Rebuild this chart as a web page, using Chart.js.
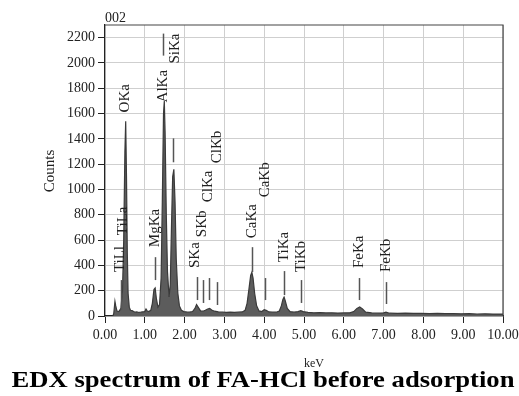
<!DOCTYPE html>
<html>
<head>
<meta charset="utf-8">
<script src="https://cdn.jsdelivr.net/npm/chart.js@4.4.1/dist/chart.umd.min.js"></script>
<style>
  html, body { margin: 0; padding: 0; background: #fff; }
  #wrap { width: 519px; height: 396px; }
</style>
</head>
<body>
<div id="wrap"><canvas id="edx" width="519" height="396"></canvas></div>
<script>
// spectrum (keV, counts)
const energies = [
  0.20, 0.22, 0.25, 0.27, 0.30, 0.33, 0.36, 0.40, 0.44, 0.47, 0.50, 0.52, 0.54, 0.56, 0.58, 0.61,
  0.64, 0.68, 0.72, 0.76, 0.80, 0.85, 0.90, 0.95, 1.00, 1.03, 1.06, 1.10, 1.15, 1.19, 1.23, 1.26,
  1.29, 1.33, 1.37, 1.41, 1.44, 1.47, 1.49, 1.51, 1.54, 1.57, 1.61, 1.64, 1.67, 1.70, 1.73, 1.76,
  1.79, 1.83, 1.87, 1.92, 1.98, 2.05, 2.12, 2.20, 2.26, 2.30, 2.34, 2.40, 2.46, 2.52, 2.58, 2.63,
  2.68, 2.75, 2.85, 2.95, 3.05, 3.15, 3.25, 3.35, 3.45, 3.52, 3.57, 3.62, 3.66, 3.69, 3.72, 3.76,
  3.81, 3.87, 3.94, 4.00, 4.05, 4.12, 4.20, 4.30, 4.38, 4.43, 4.47, 4.50, 4.53, 4.58, 4.65, 4.75,
  4.85, 4.92, 4.98, 5.10, 5.25, 5.40, 5.55, 5.70, 5.85, 6.00, 6.15, 6.25, 6.33, 6.40, 6.47, 6.55,
  6.70, 6.85, 7.00, 7.06, 7.15, 7.35, 7.55, 7.75, 7.95, 8.15, 8.35, 8.55, 8.75, 8.95, 9.15, 9.35,
  9.55, 9.75, 10.00
];
const counts = [
  0, 20, 115, 80, 40, 35, 40, 60, 200, 600, 1300, 1540, 1100, 500, 180, 70,
  45, 42, 35, 30, 32, 28, 30, 33, 35, 55, 40, 35, 45, 100, 210, 222,
  140, 70, 90, 300, 900, 1600, 1700, 1450, 800, 350, 150, 250, 700, 1100, 1160, 900,
  450, 180, 80, 45, 35, 32, 30, 35, 60, 90, 70, 40, 38, 45, 55, 60,
  48, 38, 32, 30, 28, 30, 28, 30, 32, 45, 100, 220, 320, 345, 300, 180,
  80, 40, 35, 50, 45, 32, 30, 30, 40, 80, 130, 150, 120, 60, 35, 30,
  35, 42, 35, 28, 25, 27, 24, 25, 23, 24, 25, 35, 60, 72, 55, 30,
  24, 22, 25, 30, 22, 21, 22, 20, 21, 19, 20, 18, 19, 17, 18, 16,
  17, 15, 15
];

// peak labels: name, keV of text centre, counts at start of text
const labelNames = ["TiLl", "TiLa", "OKa", "MgKa", "AlKa", "SiKa", "SKa", "SKb",
  "ClKa", "ClKb", "CaKa", "CaKb", "TiKa", "TiKb", "FeKa", "FeKb"];
const labelKeV = [0.38, 0.46, 0.50, 1.26, 1.46, 1.76, 2.26, 2.43,
  2.60, 2.81, 3.69, 4.02, 4.50, 4.92, 6.39, 7.06];
const labelBase = [347, 639, 1609, 544, 1688, 1995, 379, 623,
  899, 1207, 615, 938, 426, 347, 379, 347];

// marker lines: keV, top count, bottom count
const markerKeV = [0.39, 1.25, 1.46, 1.72, 2.30, 2.45, 2.62, 2.81, 3.69, 4.02, 4.50, 4.93, 6.39, 7.06];
const markerTop = [284, 465, 2232, 1404, 308, 284, 300, 268, 544, 300, 355, 284, 300, 268];
const markerBottom = [47, 284, 2058, 1215, 126, 103, 126, 87, 347, 126, 166, 103, 126, 95];

const xTicks = [0, 1, 2, 3, 4, 5, 6, 7, 8, 9, 10];
const yTicks = [0, 200, 400, 600, 800, 1000, 1200, 1400, 1600, 1800, 2000, 2200];
const yMax = 2300;

const serif = "'Liberation Serif', 'Times New Roman', serif";

const decorations = {
  id: "decorations",
  afterDraw(chart) {
    const ctx = chart.ctx;
    const area = chart.chartArea;
    const x = chart.scales.x;
    const y = chart.scales.y;
    ctx.save();

    // top and right frame
    ctx.strokeStyle = "#444";
    ctx.lineWidth = 1.2;
    ctx.beginPath();
    ctx.moveTo(area.left, area.top);
    ctx.lineTo(area.right, area.top);
    ctx.lineTo(area.right, area.bottom);
    ctx.stroke();

    // marker lines
    ctx.strokeStyle = "#555";
    ctx.lineWidth = 1.5;
    markerKeV.forEach((e, i) => {
      const px = Math.round(x.getPixelForValue(e)) + 0.5;
      ctx.beginPath();
      ctx.moveTo(px, y.getPixelForValue(markerTop[i]));
      ctx.lineTo(px, y.getPixelForValue(markerBottom[i]));
      ctx.stroke();
    });

    // peak labels, rotated
    ctx.fillStyle = "#222";
    ctx.font = "15px " + serif;
    ctx.textAlign = "left";
    ctx.textBaseline = "middle";
    labelNames.forEach((name, i) => {
      ctx.save();
      ctx.translate(x.getPixelForValue(labelKeV[i]), y.getPixelForValue(labelBase[i]));
      ctx.rotate(-Math.PI / 2);
      ctx.fillText(name, 0, 0);
      ctx.restore();
    });

    // "002" above the frame
    ctx.font = "14px " + serif;
    ctx.textBaseline = "alphabetic";
    ctx.fillText("002", area.left, 22);

    // y title
    ctx.save();
    ctx.translate(50, 171);
    ctx.rotate(-Math.PI / 2);
    ctx.font = "15px " + serif;
    ctx.textAlign = "center";
    ctx.textBaseline = "middle";
    ctx.fillText("Counts", 0, 0);
    ctx.restore();

    // x title
    ctx.font = "12px " + serif;
    ctx.textAlign = "center";
    ctx.fillText("keV", 314, 367);

    // caption, stretched to the width it has in the picture
    const caption = "EDX spectrum of FA-HCl before adsorption";
    ctx.fillStyle = "#000";
    ctx.font = "bold 23px " + serif;
    const w = ctx.measureText(caption).width;
    ctx.save();
    ctx.translate(263, 387);
    ctx.scale(503 / w, 1);
    ctx.fillText(caption, 0, 0);
    ctx.restore();
    ctx.restore();
  }
};

new Chart(document.getElementById("edx"), {
  type: "line",
  data: {
    datasets: [{
      data: energies.map((e, i) => ({ x: e, y: counts[i] })),
      borderColor: "#3a3a3a",
      borderWidth: 1.2,
      backgroundColor: "#5c5c5c",
      fill: "origin",
      pointRadius: 0,
      tension: 0
    }]
  },
  options: {
    responsive: false,
    animation: false,
    devicePixelRatio: 1,
    layout: { padding: { top: 25, right: 16, left: 0, bottom: 0 } },
    plugins: { legend: { display: false }, tooltip: { enabled: false } },
    scales: {
      x: {
        type: "linear",
        min: 0,
        max: 10,
        afterBuildTicks: (axis) => { axis.ticks = xTicks.map((v) => ({ value: v })); },
        afterFit: (axis) => { axis.height = 80; axis.paddingLeft = 0; axis.paddingRight = 0; },
        ticks: {
          callback: (v) => v.toFixed(2),
          color: "#222",
          font: { family: serif, size: 14 },
          padding: 4,
          maxRotation: 0
        },
        grid: { color: "#cfcfcf", tickColor: "#222", tickLength: 7, lineWidth: 1 },
        border: { color: "#222", width: 1.2 }
      },
      y: {
        min: 0,
        max: yMax,
        afterBuildTicks: (axis) => { axis.ticks = yTicks.map((v) => ({ value: v })); },
        afterFit: (axis) => { axis.width = 105; axis.paddingTop = 0; axis.paddingBottom = 0; },
        ticks: {
          callback: (v) => String(v),
          color: "#222",
          font: { family: serif, size: 14 },
          padding: 3
        },
        grid: { color: "#cfcfcf", tickColor: "#222", tickLength: 7, lineWidth: 1 },
        border: { color: "#222", width: 1.2 }
      }
    }
  },
  plugins: [decorations]
});
</script>
</body>
</html>
